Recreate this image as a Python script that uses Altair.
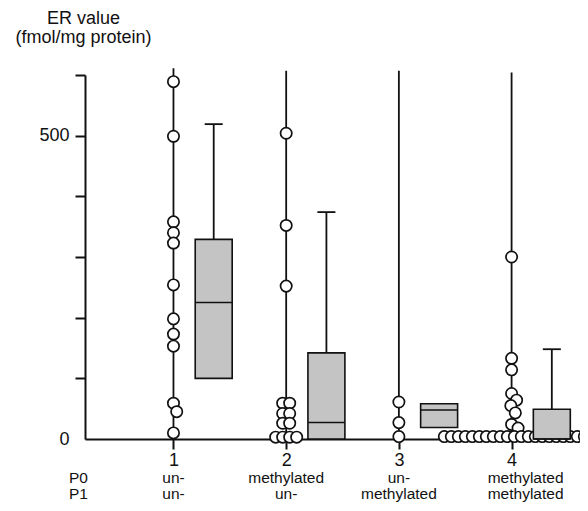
import altair as alt
import pandas as pd

# ---------------- data ----------------
groups = [1, 2, 3, 4]
p0_status = ["un-", "methylated", "un-", "methylated"]
p1_status = ["un-", "un-", "methylated", "methylated"]

er_group1 = [589, 499, 358, 340, 323, 254, 198, 173, 153, 59, 45, 10]
er_group2 = [504, 352, 252, 59, 59, 42, 42, 26, 26, 3, 3, 3, 3]
er_group3 = [61, 27, 4]
er_group4 = [300, 133, 114, 75, 64, 55, 43, 24, 18] + [4] * 21

line_top = [611, 607, 607, 604]
box_q1 = [100, 0, 19, 0]
box_median = [225, 27, 48, 0]
box_q3 = [329, 142, 58, 49]
whisker_top = [519, 374, None, 148]

y_ticks = [0, 100, 200, 300, 400, 500, 600]

# ---------------- layout / style ----------------
W, H = 495, 364
X_DOMAIN = [0.215, 4.607]
Y_DOMAIN = [0, 600]
FONT = "Liberation Sans"
INK = "#111111"
BOX_OFF = 0.357
BOX_HALF = 0.164
CAP_HALF = 0.08
DX, DY = 7.0, 9.5  # dodge distances in px

px_x = W / (X_DOMAIN[1] - X_DOMAIN[0])
px_y = H / (Y_DOMAIN[1] - Y_DOMAIN[0])


def dodge(vals):
    """Simple dot-plot dodge: identical values form a centred row,
    others are pushed sideways when they would overlap."""
    placed, out = [], []
    for v in sorted(set(vals), reverse=True):
        n = vals.count(v)
        y = v * px_y
        base = [(i - (n - 1) / 2) * DX for i in range(n)]
        found = 0.0
        for step in range(0, 1200):
            cands = (0.0,) if step == 0 else (step * 0.25, -step * 0.25)
            ok_c = None
            for c in cands:
                if all(((bx + c - px) / DX) ** 2 + ((y - py) / DY) ** 2 >= 0.999
                       for bx in base for (px, py) in placed):
                    ok_c = c
                    break
            if ok_c is not None:
                found = ok_c
                break
        for bx in base:
            placed.append((bx + found, y))
            out.append((v, (bx + found) / px_x))
    return out


rows = []
for g, vals in zip(groups, [er_group1, er_group2, er_group3, er_group4]):
    for v, off in dodge(vals):
        rows.append({"group": g, "value": v, "xpos": g + off})
dots_df = pd.DataFrame(rows)

lines_df = pd.DataFrame({"group": groups, "base": [0] * 4, "top": line_top})
box_df = pd.DataFrame({"group": groups, "q1": box_q1, "med": box_median,
                       "q3": box_q3, "wt": whisker_top})
lab_df = pd.DataFrame({"group": groups, "p0": p0_status, "p1": p1_status})
one_df = pd.DataFrame({"k": [0]})

xscale = alt.Scale(domain=X_DOMAIN, nice=False, zero=False)
yscale = alt.Scale(domain=Y_DOMAIN, nice=False, zero=False)

xaxis = alt.Axis(values=groups, format="d", tickSize=10, tickWidth=2, tickColor=INK,
                 domainColor=INK, domainWidth=2, labelFont=FONT, labelFontSize=18,
                 labelColor=INK, labelPadding=2, grid=False, title=None)
yaxis = alt.Axis(values=y_ticks,
                 labelExpr="datum.value == 0 || datum.value == 500 ? datum.label : ''",
                 tickSize=10, tickWidth=2, tickColor=INK,
                 tickOpacity=alt.condition("datum.value == 0", alt.value(0), alt.value(1)),
                 domainColor=INK, domainWidth=2, labelFont=FONT, labelFontSize=18,
                 labelColor=INK, labelPadding=6, grid=False,
                 title=["ER value", "(fmol/mg protein)"], titleFont=FONT,
                 titleFontSize=18, titleFontWeight="normal", titleColor=INK,
                 titleAngle=0, titleAlign="center", titleBaseline="alphabetic",
                 titleX=-2, titleY=-52, titleLineHeight=19)


def X(f):
    return alt.X(f, type="quantitative", scale=xscale, axis=xaxis)


def Y(f):
    return alt.Y(f, type="quantitative", scale=yscale, axis=yaxis)


lines = alt.Chart(lines_df).mark_rule(color=INK, strokeWidth=1.8).encode(
    x=X("group"), y=Y("base"), y2="top")

dots = alt.Chart(dots_df).mark_point(shape="circle", filled=True, fill="white",
                                     stroke=INK, strokeWidth=1.7, size=128,
                                     opacity=1, fillOpacity=1, strokeOpacity=1).encode(
    x=X("xpos"), y=Y("value"))

boxbase = alt.Chart(box_df).transform_calculate(
    bc=f"datum.group + {BOX_OFF}",
    bx1=f"datum.group + {BOX_OFF - BOX_HALF}",
    bx2=f"datum.group + {BOX_OFF + BOX_HALF}",
    c1=f"datum.group + {BOX_OFF - CAP_HALF}",
    c2=f"datum.group + {BOX_OFF + CAP_HALF}",
)

whisk = boxbase.transform_filter("isValid(datum.wt)").mark_rule(
    color=INK, strokeWidth=1.8).encode(x=X("bc"), y=Y("q3"), y2="wt")
caps = boxbase.transform_filter("isValid(datum.wt)").mark_rule(
    color=INK, strokeWidth=1.8).encode(x=X("c1"), x2="c2", y=Y("wt"))
boxes = boxbase.mark_rect(fill="#c4c4c4", stroke=INK, strokeWidth=1.6).encode(
    x=X("bx1"), x2="bx2", y=Y("q1"), y2="q3")
medians = boxbase.mark_rule(color=INK, strokeWidth=1.5).encode(
    x=X("bx1"), x2="bx2", y=Y("med"))

ROW0_Y, ROW1_Y = 408, 424
tkw = dict(font=FONT, fontSize=15.5, color=INK, baseline="alphabetic", align="center")
row0 = alt.Chart(lab_df).transform_filter("datum.group < 4").mark_text(**tkw).encode(
    x=X("group"), y=alt.value(ROW0_Y), text="p0:N")
row1 = alt.Chart(lab_df).transform_filter("datum.group < 4").mark_text(**tkw).encode(
    x=X("group"), y=alt.value(ROW1_Y), text="p1:N")
row0b = alt.Chart(lab_df).transform_filter("datum.group == 4").mark_text(dx=14, **tkw).encode(
    x=X("group"), y=alt.value(ROW0_Y), text="p0:N")
row1b = alt.Chart(lab_df).transform_filter("datum.group == 4").mark_text(dx=14, **tkw).encode(
    x=X("group"), y=alt.value(ROW1_Y), text="p1:N")
p0 = alt.Chart(one_df).mark_text(**tkw).encode(
    x=alt.value(-6.5), y=alt.value(ROW0_Y), text=alt.value("P0"))
p1 = alt.Chart(one_df).mark_text(**tkw).encode(
    x=alt.value(-6.5), y=alt.value(ROW1_Y), text=alt.value("P1"))

chart = alt.layer(lines, whisk, caps, dots, boxes, medians,
                  row0, row1, row0b, row1b, p0, p1).properties(
    width=W, height=H,
    autosize=alt.AutoSizeParams(type="none"),
    padding={"left": 77, "top": 67, "right": 0, "bottom": 64},
    background="white",
).configure_view(strokeWidth=0)

chart.save("out.html", embed_options={"renderer": "svg", "actions": False})
